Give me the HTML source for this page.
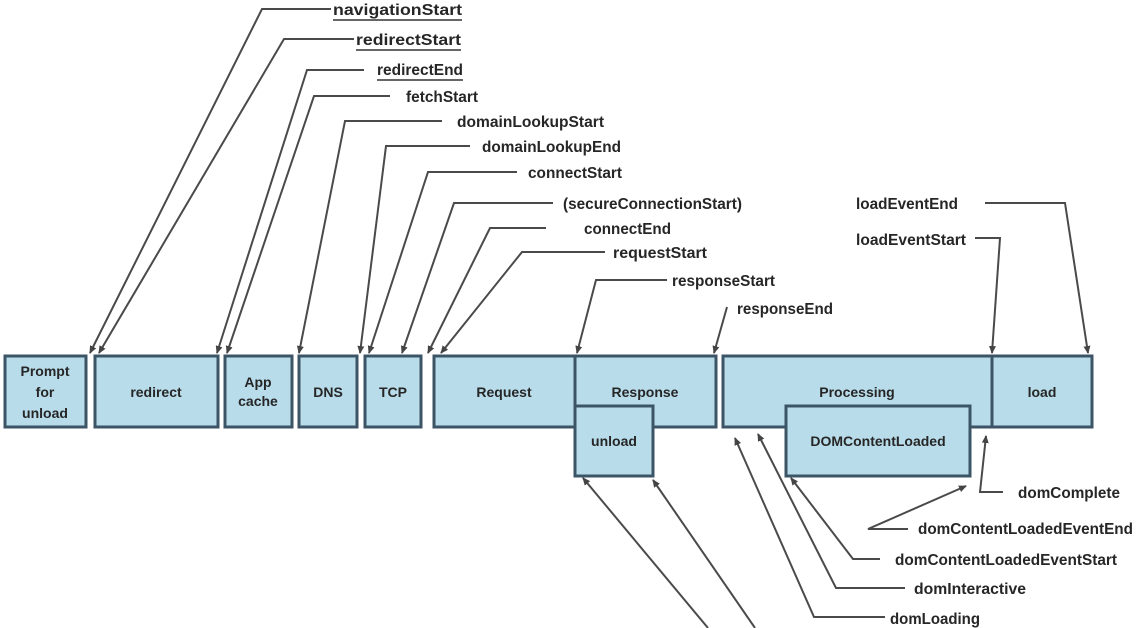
<!DOCTYPE html>
<html><head><meta charset="utf-8"><style>
html,body{margin:0;padding:0;background:#fff;width:1137px;height:628px;overflow:hidden}
svg{display:block}
text{font-family:"Liberation Sans",sans-serif;font-weight:bold;fill:#262626}
.l{font-size:16px}
.b{font-size:14px;fill:#333}
</style></head><body>
<svg width="1137" height="628" viewBox="0 0 1137 628" xmlns="http://www.w3.org/2000/svg">
<defs><marker id="a" markerWidth="8" markerHeight="8" refX="7" refY="4" orient="auto" markerUnits="userSpaceOnUse"><path d="M0,0.5 L8,4 L0,7.5 z" fill="#444"/></marker></defs>
<g fill="#b8dcea" stroke="#3c5566" stroke-width="3">
<rect x="5" y="356" width="81" height="71"/>
<rect x="95" y="356" width="123" height="71"/>
<rect x="225" y="356" width="67" height="71"/>
<rect x="299" y="356" width="58" height="71"/>
<rect x="365" y="356" width="56" height="71"/>
<rect x="434" y="356" width="141" height="71"/>
<rect x="575" y="356" width="141" height="71"/>
<rect x="575" y="406" width="78" height="70"/>
<rect x="723" y="356" width="269" height="71"/>
<rect x="992" y="356" width="100" height="71"/>
<rect x="786" y="406" width="184" height="70"/>
</g>
<g class="b" text-anchor="middle">
<text x="45" y="376">Prompt</text><text x="45" y="397">for</text><text x="45" y="418">unload</text>
<text x="156" y="397">redirect</text>
<text x="258" y="387">App</text><text x="258" y="406">cache</text>
<text x="328" y="397">DNS</text>
<text x="393" y="397">TCP</text>
<text x="504" y="397">Request</text>
<text x="645" y="397">Response</text>
<text x="614" y="446">unload</text>
<text x="857" y="397">Processing</text>
<text x="1042" y="397">load</text>
<text x="878" y="446">DOMContentLoaded</text>
</g>
<g fill="none" stroke="#4a4a4a" stroke-width="2" marker-end="url(#a)">
<polyline points="331,9 262,9 90,353"/>
<polyline points="354,39 284,39 99,353"/>
<polyline points="364,70 307,70 217,353"/>
<polyline points="390,96 314,96 227,353"/>
<polyline points="442,121 345,121 299,353"/>
<polyline points="470,146 386,146 360,353"/>
<polyline points="517,172 428,172 369,353"/>
<polyline points="553,203 454,203 402,353"/>
<polyline points="546,228 490,228 428,353"/>
<polyline points="605,252 522,252 441,353"/>
<polyline points="667,280 596,280 577,353"/>
<polyline points="727,307 714,353"/>
<polyline points="985,203 1065,203 1088,353"/>
<polyline points="975,238 1000,238 992,353"/>
<polyline points="708,628 583,478"/>
<polyline points="755,628 653,480"/>
<polyline points="885,617 814,617 735,438"/>
<polyline points="905,588 836,588 758,434"/>
<polyline points="880,559 853,559 791,478"/>
<polyline points="908,529 868,529 966,486"/>
<polyline points="1003,492 980,492 986,436"/>
</g>
<g class="l">
<text x="333" y="15" textLength="129" lengthAdjust="spacingAndGlyphs">navigationStart</text>
<line x1="333" y1="20" x2="462" y2="20" stroke="#333" stroke-width="1.5"/>
<text x="356" y="45" textLength="105" lengthAdjust="spacingAndGlyphs">redirectStart</text>
<line x1="356" y1="50" x2="461" y2="50" stroke="#333" stroke-width="1.5"/>
<text x="377" y="75" textLength="86" lengthAdjust="spacingAndGlyphs">redirectEnd</text>
<line x1="377" y1="80" x2="463" y2="80" stroke="#333" stroke-width="1.5"/>
<text x="406" y="102" textLength="72" lengthAdjust="spacingAndGlyphs">fetchStart</text>
<text x="457" y="127" textLength="147" lengthAdjust="spacingAndGlyphs">domainLookupStart</text>
<text x="482" y="152" textLength="139" lengthAdjust="spacingAndGlyphs">domainLookupEnd</text>
<text x="528" y="178" textLength="94" lengthAdjust="spacingAndGlyphs">connectStart</text>
<text x="563" y="209" textLength="179" lengthAdjust="spacingAndGlyphs">(secureConnectionStart)</text>
<text x="584" y="234" textLength="87" lengthAdjust="spacingAndGlyphs">connectEnd</text>
<text x="613" y="258" textLength="94" lengthAdjust="spacingAndGlyphs">requestStart</text>
<text x="672" y="286" textLength="103" lengthAdjust="spacingAndGlyphs">responseStart</text>
<text x="737" y="314" textLength="96" lengthAdjust="spacingAndGlyphs">responseEnd</text>
<text x="856" y="209" textLength="102" lengthAdjust="spacingAndGlyphs">loadEventEnd</text>
<text x="856" y="245" textLength="110" lengthAdjust="spacingAndGlyphs">loadEventStart</text>
<text x="1018" y="498" textLength="102" lengthAdjust="spacingAndGlyphs">domComplete</text>
<text x="918" y="534" textLength="215" lengthAdjust="spacingAndGlyphs">domContentLoadedEventEnd</text>
<text x="895" y="565" textLength="222" lengthAdjust="spacingAndGlyphs">domContentLoadedEventStart</text>
<text x="914" y="594" textLength="112" lengthAdjust="spacingAndGlyphs">domInteractive</text>
<text x="890" y="624" textLength="90" lengthAdjust="spacingAndGlyphs">domLoading</text>
</g>
</svg>
</body></html>
